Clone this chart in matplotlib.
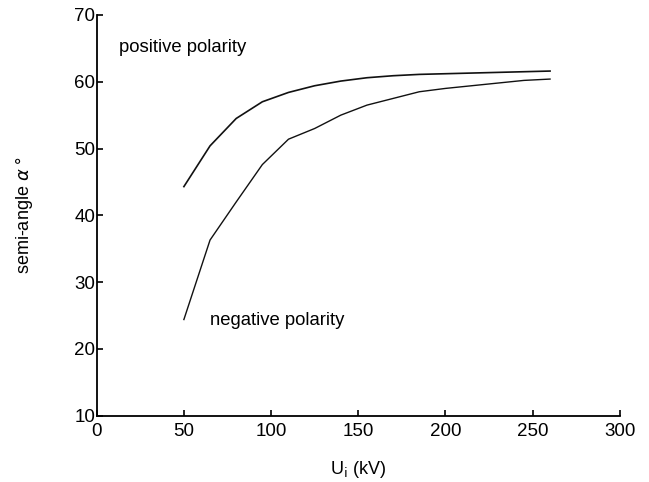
import matplotlib
matplotlib.use("Agg")
import matplotlib.pyplot as plt

plt.rcParams['font.family'] = ['Liberation Sans', 'DejaVu Sans']

voltage_kv = [50, 65, 80, 95, 110, 125, 140, 155, 170, 185, 200, 215, 230, 245, 260]
positive_alpha = [44.3, 50.4, 54.5, 57.0, 58.4, 59.4, 60.1, 60.6, 60.9, 61.1, 61.2, 61.3, 61.4, 61.5, 61.6]
negative_alpha = [24.4, 36.3, 42.0, 47.6, 51.4, 53.0, 55.0, 56.5, 57.5, 58.5, 59.0, 59.4, 59.8, 60.2, 60.4]

x_ticks = [0, 50, 100, 150, 200, 250, 300]
y_ticks = [10, 20, 30, 40, 50, 60, 70]

fig = plt.figure(figsize=(6.49, 4.82), dpi=100)
ax = fig.add_axes([0.149, 0.1375, 0.806, 0.8315])

ax.plot(voltage_kv, positive_alpha, color='#111111', lw=1.2)
ax.plot(voltage_kv, negative_alpha, color='#111111', lw=1.0)

ax.set_xlim(0, 300)
ax.set_ylim(10, 70)
ax.set_xticks(x_ticks)
ax.set_yticks(y_ticks)
for s in ['top', 'right']:
    ax.spines[s].set_visible(False)
for s in ['left', 'bottom']:
    ax.spines[s].set_linewidth(1.3)
ax.tick_params(direction='in', length=4, width=1.2, labelsize=13.5)
ax.tick_params(axis='y', pad=1)
ax.tick_params(axis='x', pad=5)

ax.text(13, 65.2, 'positive polarity', fontsize=13.3, va='center', ha='left')
ax.text(65, 24.3, 'negative polarity', fontsize=13.3, va='center', ha='left')

ax.set_xlabel('U$_{\\mathrm{i}}$ (kV)', fontsize=13, labelpad=14)
ax.set_ylabel('semi-angle $\\alpha$ °', fontsize=13, labelpad=28)

fig.savefig('out.png', dpi=100)
